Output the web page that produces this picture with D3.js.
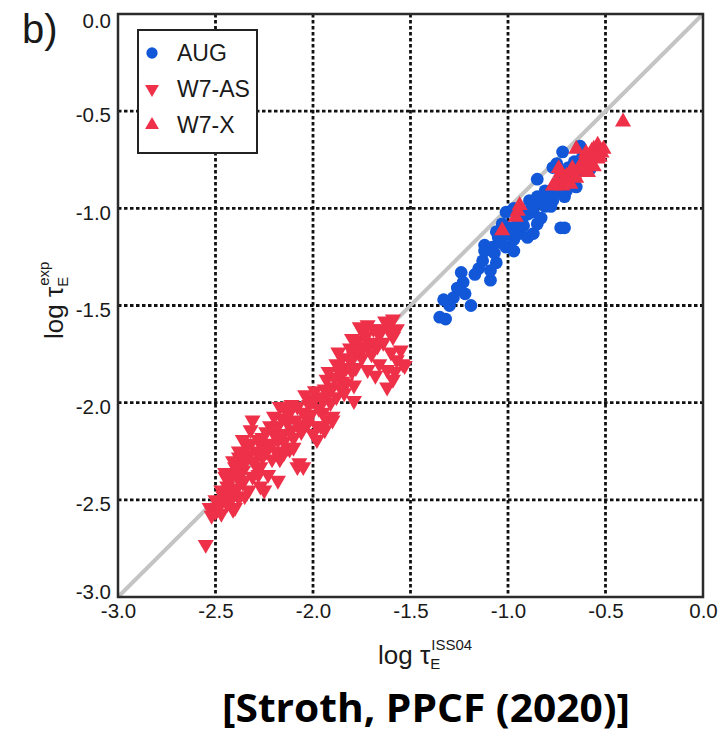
<!DOCTYPE html>
<html>
  <head>
    <meta charset="utf-8">
    <title>Confinement time scaling</title>
    <script src="https://d3js.org/d3.v7.min.js"></script>
    <style>
      body { margin: 0; background: #fff; }
    </style>
  </head>
  <body>
    <script>
      // ==================
      // data (log10 values)
      // ==================
      const axisTicks = [-3.0, -2.5, -2.0, -1.5, -1.0, -0.5, 0.0];
      const seriesNames = ["AUG", "W7-AS", "W7-X"];

      const w7asPoints = [
        [-2.55, -2.73], [-2.53, -2.54], [-2.50, -2.56], [-2.49, -2.55], [-2.48, -2.52],
        [-2.46, -2.48], [-2.44, -2.43], [-2.45, -2.38], [-2.41, -2.36], [-2.41, -2.55],
        [-2.40, -2.54], [-2.42, -2.50], [-2.38, -2.49], [-2.38, -2.28], [-2.37, -2.40],
        [-2.36, -2.41], [-2.36, -2.35], [-2.45, -2.36], [-2.29, -2.33], [-2.27, -2.43],
        [-2.25, -2.45], [-2.23, -2.37], [-2.18, -2.40], [-2.29, -2.25], [-2.26, -2.23],
        [-2.21, -2.21], [-2.17, -2.29], [-2.12, -2.24], [-2.08, -2.33], [-2.27, -2.33],
        [-2.26, -2.18], [-2.22, -2.12], [-2.18, -2.19], [-2.17, -2.28], [-2.13, -2.23],
        [-2.10, -2.23], [-2.07, -2.31], [-2.05, -2.33], [-2.15, -2.02], [-2.12, -2.05],
        [-2.08, -2.02], [-2.07, -2.12], [-2.15, -2.16], [-2.03, -2.07], [-2.00, -1.99],
        [-1.98, -2.12], [-1.96, -1.97], [-1.95, -2.05], [-1.91, -2.00], [-1.90, -2.07],
        [-1.93, -1.88], [-1.90, -1.92], [-1.88, -1.97], [-1.86, -1.85], [-1.83, -1.90],
        [-1.79, -1.99], [-1.83, -1.82], [-1.79, -1.76], [-1.87, -1.74], [-1.76, -1.73],
        [-1.77, -1.68], [-1.74, -1.64], [-1.76, -1.61], [-1.72, -1.60], [-1.69, -1.69],
        [-1.72, -1.83], [-1.66, -1.80], [-1.62, -1.83], [-1.62, -1.92], [-1.59, -1.88],
        [-1.57, -1.78], [-1.54, -1.80], [-1.55, -1.73], [-1.59, -1.66], [-1.62, -1.59],
        [-1.59, -1.57], [-1.96, -2.12], [-2.00, -2.16], [-1.98, -2.19], [-1.63, -1.58],
        [-1.53, -1.81], [-1.79, -1.91], [-1.85, -1.89], [-1.81, -1.72], [-1.71, -1.70],
        [-2.17, -2.02], [-2.27, -2.19], [-2.15, -2.26], [-2.21, -2.29], [-1.90, -2.09],
        [-2.32, -2.14], [-2.34, -2.22], [-2.31, -2.09],
        [-2.47, -2.45], [-2.43, -2.47], [-2.39, -2.44], [-2.43, -2.40], [-2.40, -2.33],
        [-2.37, -2.30], [-2.33, -2.27], [-2.35, -2.31], [-2.31, -2.38], [-2.33, -2.45],
        [-2.28, -2.19], [-2.24, -2.15], [-2.20, -2.16], [-2.19, -2.25], [-2.15, -2.20],
        [-2.11, -2.14], [-2.09, -2.09], [-2.05, -2.05], [-2.02, -2.01], [-2.04, -1.96],
        [-1.99, -1.94], [-1.97, -2.03], [-1.94, -1.93], [-1.92, -1.84], [-1.88, -1.80],
        [-1.85, -1.77], [-1.81, -1.78], [-1.78, -1.82], [-1.75, -1.77], [-1.73, -1.66],
        [-1.69, -1.62], [-1.66, -1.65], [-1.64, -1.69], [-1.80, -1.67], [-1.84, -1.95],
        [-1.93, -2.09], [-2.20, -2.07], [-2.24, -2.25], [-2.50, -2.50], [-2.44, -2.52],
        [-2.52, -2.58], [-2.47, -2.57], [-2.45, -2.50], [-2.42, -2.45], [-2.39, -2.38],
        [-2.41, -2.30], [-2.38, -2.25], [-2.36, -2.19], [-2.32, -2.21], [-2.30, -2.30],
        [-2.28, -2.37], [-2.26, -2.28], [-2.22, -2.22], [-2.18, -2.12], [-2.16, -2.08],
        [-2.13, -2.10], [-2.11, -2.01], [-2.10, -2.18], [-2.06, -2.15], [-2.03, -2.11],
        [-2.01, -2.06], [-1.99, -1.98], [-1.95, -1.98], [-1.92, -1.95], [-1.89, -1.87],
        [-1.86, -1.92], [-1.84, -1.83], [-1.80, -1.84], [-1.77, -1.73], [-1.74, -1.71],
        [-1.70, -1.75], [-1.67, -1.71], [-1.65, -1.62], [-1.61, -1.63], [-1.57, -1.62],
        [-1.60, -1.74], [-1.58, -1.84], [-1.68, -1.86], [-1.94, -2.14], [-2.35, -2.48]
      ];

      const augPoints = [
        [-1.35, -1.56], [-1.32, -1.57], [-1.33, -1.47], [-1.28, -1.46], [-1.26, -1.41],
        [-1.25, -1.42], [-1.19, -1.50], [-1.24, -1.33], [-1.23, -1.38], [-1.15, -1.31],
        [-1.09, -1.37], [-1.09, -1.32], [-1.06, -1.28], [-1.12, -1.22], [-1.12, -1.19],
        [-1.08, -1.20], [-1.07, -1.23], [-1.01, -1.20], [-0.97, -1.22], [-1.04, -1.14],
        [-0.97, -1.16], [-0.94, -1.13], [-0.90, -1.15], [-0.87, -1.13], [-0.92, -1.09],
        [-0.85, -1.08], [-1.03, -1.08], [-1.01, -1.02], [-0.97, -1.00], [-0.94, -1.00],
        [-0.89, -0.96], [-0.85, -0.94], [-0.84, -0.97], [-0.81, -0.99], [-0.77, -0.96],
        [-0.73, -1.10], [-0.71, -1.10], [-0.87, -1.02], [-0.85, -0.85], [-0.76, -0.92],
        [-0.71, -0.94], [-0.77, -0.79], [-0.72, -0.71], [-0.75, -0.77], [-0.65, -0.82],
        [-0.65, -0.89], [-0.63, -0.68], [-0.70, -0.91], [-0.95, -1.06], [-0.99, -1.10],
        [-1.05, -1.15], [-0.78, -0.99], [-0.58, -0.80], [-0.90, -1.03], [-0.81, -0.91],
        [-1.30, -1.50], [-1.22, -1.44], [-1.17, -1.34], [-1.13, -1.27], [-1.03, -1.18],
        [-1.00, -1.13], [-0.95, -1.09], [-0.92, -1.04], [-0.88, -1.00], [-0.83, -0.95],
        [-0.80, -0.93], [-0.74, -0.86], [-0.69, -0.79], [-0.66, -0.76], [-0.62, -0.74],
        [-0.83, -1.05], [-1.06, -1.12]
      ];

      const w7xPoints = [
        [-0.41, -0.56], [-0.65, -0.70], [-0.54, -0.68], [-0.53, -0.74], [-0.58, -0.74],
        [-0.62, -0.77], [-0.56, -0.79], [-0.67, -0.80], [-0.65, -0.85], [-0.63, -0.81],
        [-0.70, -0.84], [-0.73, -0.82], [-0.75, -0.87], [-0.72, -0.89], [-0.59, -0.82],
        [-0.68, -0.88], [-0.77, -0.89], [-0.74, -0.80], [-0.54, -0.75], [-0.56, -0.70],
        [-0.95, -1.02], [-0.94, -0.99], [-0.96, -1.05], [-1.03, -1.12], [-0.58, -0.77],
        [-0.51, -0.70], [-0.60, -0.72], [-0.71, -0.85], [-0.61, -0.79], [-0.66, -0.83],
        [-0.52, -0.72], [-0.57, -0.71]
      ];

      // ==================
      // chart
      // ==================
      function drawChart() {
        const width = 721;
        const height = 738;
        const plot = {left: 118, right: 703, top: 14, bottom: 597};
        const red = "#ee3049";
        const blue = "#1157d8";

        const svg = d3.select("body")
          .append("svg")
            .attr("width", width)
            .attr("height", height)
            .style("font-family", "'Liberation Sans', Arial, sans-serif");

        svg.append("rect")
          .attr("width", width)
          .attr("height", height)
          .attr("fill", "#fff");

        const xScale = d3.scaleLinear()
          .domain([-3, 0])
          .range([plot.left, plot.right]);

        const yScale = d3.scaleLinear()
          .domain([-3, 0])
          .range([plot.bottom, plot.top]);

        // dotted grid on the inner ticks
        const inner = axisTicks.slice(1, -1);
        const grid = svg.append("g")
          .attr("stroke", "#111")
          .attr("stroke-width", 2.8)
          .attr("stroke-dasharray", "3.5,2.5");

        grid.selectAll("line.gx")
          .data(inner)
          .enter().append("line")
            .attr("x1", function(d) { return xScale(d); })
            .attr("x2", function(d) { return xScale(d); })
            .attr("y1", plot.top)
            .attr("y2", plot.bottom);

        grid.selectAll("line.gy")
          .data(inner)
          .enter().append("line")
            .attr("y1", function(d) { return yScale(d); })
            .attr("y2", function(d) { return yScale(d); })
            .attr("x1", plot.left)
            .attr("x2", plot.right);

        // 1:1 line
        svg.append("line")
          .attr("x1", xScale(-3)).attr("y1", yScale(-3))
          .attr("x2", xScale(0)).attr("y2", yScale(0))
          .attr("stroke", "#c4c4c4")
          .attr("stroke-width", 4);

        const triangle = d3.symbol().type(d3.symbolTriangle).size(112);
        const circle = d3.symbol().type(d3.symbolCircle).size(128);

        svg.append("g").selectAll("path")
          .data(w7asPoints)
          .enter().append("path")
            .attr("d", triangle())
            .attr("fill", red)
            .attr("transform", function(d) {
              return "translate(" + xScale(d[0]) + "," + yScale(d[1]) + ") rotate(180)";
            });

        svg.append("g").selectAll("path")
          .data(augPoints)
          .enter().append("path")
            .attr("d", circle())
            .attr("fill", blue)
            .attr("transform", function(d) {
              return "translate(" + xScale(d[0]) + "," + yScale(d[1]) + ")";
            });

        svg.append("g").selectAll("path")
          .data(w7xPoints)
          .enter().append("path")
            .attr("d", triangle())
            .attr("fill", red)
            .attr("transform", function(d) {
              return "translate(" + xScale(d[0]) + "," + (yScale(d[1]) - 1) + ")";
            });

        // frame
        svg.append("rect")
          .attr("x", plot.left)
          .attr("y", plot.top)
          .attr("width", plot.right - plot.left)
          .attr("height", plot.bottom - plot.top)
          .attr("fill", "none")
          .attr("stroke", "#2b2b2b")
          .attr("stroke-width", 2.5);

        // axes (labels only)
        const fmt = function(d) { return d.toFixed(1); };

        const xAxis = svg.append("g")
          .attr("transform", "translate(0," + plot.bottom + ")")
          .call(d3.axisBottom(xScale).tickValues(axisTicks).tickSize(0).tickPadding(6).tickFormat(fmt));

        const yAxis = svg.append("g")
          .attr("transform", "translate(" + plot.left + ",0)")
          .call(d3.axisLeft(yScale).tickValues(axisTicks).tickSize(0).tickPadding(7).tickFormat(fmt));

        xAxis.select(".domain").remove();
        yAxis.select(".domain").remove();

        svg.selectAll(".tick text")
          .attr("font-family", "'Liberation Sans', Arial, sans-serif")
          .attr("font-size", 20.5)
          .attr("fill", "#1a1a1a");

        yAxis.selectAll(".tick text")
          .attr("dy", function(d) {
            if (d === -3) return "0.05em";
            if (d === 0) return "0.66em";
            return "0.52em";
          });

        // axis titles
        const xTitle = svg.append("text")
          .attr("x", 378)
          .attr("y", 664)
          .attr("font-size", 26)
          .attr("fill", "#1a1a1a");
        xTitle.append("tspan").text("log \u03c4");
        xTitle.append("tspan").attr("font-size", 15).attr("dy", 5).text("E");
        xTitle.append("tspan").attr("font-size", 15).attr("dx", -9).attr("dy", -19).text("ISS04");

        const yTitle = svg.append("text")
          .attr("transform", "translate(63,339) rotate(-90)")
          .attr("font-size", 26)
          .attr("fill", "#1a1a1a");
        yTitle.append("tspan").text("log \u03c4");
        yTitle.append("tspan").attr("font-size", 15).attr("dy", 5).text("E");
        yTitle.append("tspan").attr("font-size", 15).attr("dx", -9).attr("dy", -19).text("exp");

        // legend
        const legend = svg.append("g");
        legend.append("rect")
          .attr("x", 138).attr("y", 30)
          .attr("width", 119).attr("height", 123)
          .attr("fill", "#fff")
          .attr("stroke", "#222")
          .attr("stroke-width", 2);

        const legendMarks = [circle, triangle, triangle];
        seriesNames.forEach(function(name, i) {
          const y = 53 + i * 36;
          legend.append("path")
            .attr("d", legendMarks[i].size(i === 0 ? 100 : 84)())
            .attr("fill", i === 0 ? blue : red)
            .attr("transform", "translate(152," + y + ")" + (i === 1 ? " rotate(180)" : ""));
          legend.append("text")
            .attr("x", 177)
            .attr("y", y + 8)
            .attr("font-size", 23)
            .attr("fill", "#1a1a1a")
            .text(name);
        });

        // panel tag and citation
        svg.append("text")
          .attr("x", 22)
          .attr("y", 43)
          .attr("font-size", 40)
          .attr("fill", "#1a1a1a")
          .text("b)");

        svg.append("text")
          .attr("x", 222)
          .attr("y", 722)
          .attr("font-family", "'Open Sans', sans-serif")
          .attr("font-weight", "bold")
          .attr("font-size", 40)
          .attr("textLength", 408)
          .attr("lengthAdjust", "spacingAndGlyphs")
          .attr("fill", "#000")
          .text("[Stroth, PPCF (2020)]");
      }
      drawChart();
    </script>
  </body>
</html>
